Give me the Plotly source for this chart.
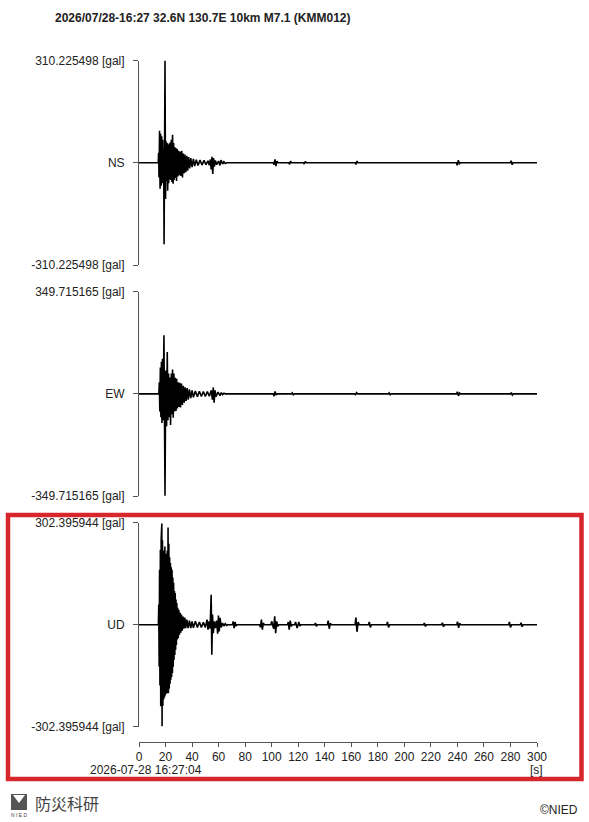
import plotly.graph_objects as go

W, H = 589, 822

TITLE = "2026/07/28-16:27 32.6N 130.7E 10km M7.1 (KMM012)"
START = "2026-07-28 16:27:04"
CHANNELS = ["NS", "EW", "UD"]
MAXES = [310.225498, 349.715165, 302.395944]
X_TICKS = list(range(0, 301, 20))

NS = [(0,0),(14.5,0),(14.8,30),(15.1,-45),(15.5,97),(15.9,-79),(16.3,88),(16.7,-70),(17.1,80),(17.5,-62),
      (17.9,70),(18.3,-45),(18.6,40),(18.9,-247),(19.3,60),(19.6,310),(20.0,-110),(20.4,65),(20.8,-55),(21.2,60),
      (21.6,-85),(22.0,55),(22.4,-62),(22.8,58),(23.2,-50),(23.6,62),(24.0,-52),(24.4,70),(24.8,-58),(25.3,85),
      (25.7,-64),(26.1,60),(26.5,-52),(26.9,48),(27.3,-46),(27.8,45),(28.3,-55),(28.8,42),(29.3,-42),(29.8,36),
      (30.4,-38),(31.0,34),(31.6,-40),(32.2,36),(32.8,-45),(33.4,28),(34.0,-32),(34.6,25),(35.3,-29),(36.0,21),
      (36.7,-24),(37.4,17),(38.2,-17),(39.0,14),(40.0,-13),(41.0,12),(42.0,-10),(43.2,9),(44.5,-8),(46.0,8),
      (47.5,-7),(49.0,7),(50.5,-6),(52.0,6),(53.0,-8),(53.8,10),(54.4,-20),(55.0,18),(55.6,-34),(56.2,14),
      (56.8,-12),(57.6,7),(58.5,-6),(60.0,5),(61.0,-8),(61.8,8),(63.0,-4),(64,3),(65,-2),(66,0),
      (101.2,0),(101.8,-6),(102.5,10),(103.2,-10),(104,5),(104.8,0),
      (113,0),(113.5,-5),(114.2,5),(114.9,0),(124,0),(124.5,-4),(125.3,4),(126,0),
      (163,0),(163.5,-5),(164.3,5),(165,0),(239.3,0),(239.8,-8),(240.7,8),(241.5,-3),(242.3,0),
      (280,0),(280.5,6),(281.3,-6),(282,0),(300,0)]

EW = [(0,0),(15.0,0),(15.3,40),(15.7,-60),(16.1,90),(16.5,-80),(16.9,110),(17.3,-100),(17.7,120),(18.1,-90),
      (18.8,201),(19.6,-349),(20.2,80),(20.8,-111),(21.3,143),(21.8,-90),(22.3,70),(22.8,-80),(23.3,56),(23.8,-107),
      (24.4,70),(24.9,-70),(25.3,83),(25.8,-82),(26.3,70),(26.8,-60),(27.4,55),(27.9,-59),(28.4,52),(28.9,-50),
      (29.5,40),(30.1,-45),(30.7,38),(31.3,-47),(32.0,35),(32.7,-38),(33.4,28),(34.1,-30),(34.8,22),(35.5,-24),
      (36.3,20),(37.1,-20),(38.0,15),(39.0,-15),(40.0,12),(41.0,-12),(42.5,10),(44.0,-10),(45.5,9),(47.0,-9),
      (48.5,8),(50.0,-9),(51.5,8),(53.0,-8),(54.5,12),(55.3,-20),(56.0,22),(56.6,-30),(57.3,12),(58.0,-10),
      (59.5,6),(61.0,-6),(62,4),(63,-3),(64,2),(65,0),
      (101.2,0),(101.8,-8),(102.6,8),(103.4,-4),(104.2,0),(115,0),(115.5,3),(116.3,-3),(117,0),
      (162.6,0),(163.2,-4),(164,4),(164.8,0),(188,0),(188.5,3),(189.3,-3),(190,0),
      (239.4,0),(240,7),(240.8,-7),(241.6,3),(242.4,0),(280,0),(280.6,4),(281.4,-4),(282.2,0),(300,0)]

UD = [(0,0),(14.6,0),(14.9,60),(15.2,-124),(15.5,163),(15.8,-180),(16.1,222),(16.4,-242),(16.7,250),(17.0,-270),
      (17.2,300),(17.4,-301),(17.7,250),(18.0,-240),(18.3,213),(18.6,-222),(18.9,220),(19.2,-215),(19.5,232),
      (19.8,-210),(20.1,210),(20.4,-205),(20.7,202),(21.0,-203),(21.3,220),(21.6,-200),(21.9,288),(22.2,-203),
      (22.5,240),(22.8,-190),(23.1,200),(23.4,-175),(23.7,183),(24.0,-163),(24.3,170),(24.6,-155),(24.9,163),
      (25.2,-143),(25.5,140),(25.8,-125),(26.1,124),(26.4,-104),(26.7,100),(27.0,-90),(27.3,94),(27.6,-74),
      (27.9,75),(28.2,-60),(28.5,64),(28.8,-44),(29.2,50),(29.6,-40),(30.0,44),(30.5,-30),(31.0,35),(31.5,-24),
      (32.0,30),(32.6,-18),(33.2,24),(33.8,-12),(34.5,21),(35.2,-10),(36,15),(37,-10),(38,12),(39,-10),(40,10),
      (41,-9),(42.5,10),(44,-8),(45.5,8),(47,-8),(48.5,7),(50,-8),(51.3,15),(52,-15),(52.8,10),(53.6,-12),
      (54.4,89),(54.9,-89),(55.4,30),(56,-25),(56.8,10),(57.6,-10),(58.5,12),(59.3,-27),(59.9,27),(60.5,-20),
      (61.1,20),(62,-8),(63,5),(64,-4),(65,3),(66,-2),(67,0),
      (70.4,0),(71,10),(71.7,-10),(72.4,8),(73.1,-4),(73.8,0),
      (91,0),(91.5,-8),(92.3,15),(93,-15),(93.7,5),(94.4,0),
      (99.4,0),(100,10),(101.5,-12),(102.3,25),(103,-25),(103.8,10),(104.6,-5),(105.4,0),
      (112,0),(112.5,8),(113.2,-15),(114,12),(114.8,-5),(115.5,0),
      (117.4,0),(118,8),(119.2,-10),(120.5,8),(121.3,-4),(122,0),
      (132.4,0),(133,5),(133.7,-5),(134.4,0),(142,0),(142.6,12),(143.4,-12),(144.2,4),(145,0),
      (162.9,0),(163.5,21),(164.3,-21),(165.2,8),(166,0),(173,0),(173.6,8),(174.4,-8),(175.2,0),
      (186.7,0),(187.3,8),(188.1,-8),(188.9,0),(214.5,0),(215.1,5),(215.9,-5),(216.7,0),
      (228.1,0),(228.7,6),(229.5,-6),(230.3,0),(239.5,0),(240.1,9),(240.9,-9),(241.7,4),(242.5,0),
      (278.6,0),(279.2,8),(280,-8),(280.8,0),(287.4,0),(288,6),(288.8,-6),(289.6,0),(300,0)]

SERIES = [NS, EW, UD]

# ---- layout helpers (pixel -> paper) ----
def px(x):
    return x / W

def py(y):
    return 1 - y / H

FONT = "Liberation Sans, Arial, sans-serif"
AXC = "#555555"
TXT = "#222222"

panel_px = [(60.5, 265.0), (291.7, 496.0), (522.7, 726.7)]
ax_names = ["y", "y2", "y3"]

fig = go.Figure()
for i, (name, mx, pts) in enumerate(zip(CHANNELS, MAXES, SERIES)):
    fig.add_trace(go.Scatter(
        x=[p[0] for p in pts], y=[p[1] for p in pts],
        mode="lines", line=dict(color="black", width=1.6),
        xaxis="x", yaxis=ax_names[i], showlegend=False, hoverinfo="skip"))

layout = dict(
    template="none",
    width=W, height=H, autosize=False,
    margin=dict(l=0, r=0, t=0, b=0, pad=0),
    paper_bgcolor="white", plot_bgcolor="white",
    font=dict(family=FONT, size=12, color=TXT),
    xaxis=dict(domain=[px(139), px(537)], range=[0, 300], anchor="free", position=py(741.5),
               tickmode="array", tickvals=X_TICKS, ticktext=[str(v) for v in X_TICKS],
               ticks="outside", ticklen=4, tickcolor=AXC, showline=True, linecolor=AXC, linewidth=1,
               showgrid=False, zeroline=False, automargin=False, tickfont=dict(size=12, color=TXT)),
)
for i, (name, mx) in enumerate(zip(CHANNELS, MAXES)):
    top, bot = panel_px[i]
    key = "yaxis" if i == 0 else f"yaxis{i+1}"
    layout[key] = dict(
        domain=[py(bot), py(top)], range=[-mx, mx], anchor="x",
        tickmode="array", tickvals=[-mx, 0, mx],
        ticktext=[f"-{mx:.6f} [gal]", name, f"{mx:.6f} [gal]"],
        ticks="outside", ticklen=5, tickcolor=AXC, showline=True, linecolor=AXC, linewidth=1,
        showgrid=False, zeroline=False, ticklabelstandoff=6, automargin=False,
        tickfont=dict(size=12, color=TXT))
fig.update_layout(**layout)

ann = [
    dict(text="<b>" + TITLE + "</b>", x=px(53), y=py(18), xanchor="left", yanchor="middle",
         font=dict(size=12, color=TXT)),
    dict(text=START, x=px(88), y=py(770), xanchor="left", yanchor="middle", font=dict(size=12, color=TXT)),
    dict(text="[s]", x=px(536), y=py(770), xanchor="center", yanchor="middle", font=dict(size=12, color=TXT)),
    dict(text="防災科研", x=px(33), y=py(803), xanchor="left", yanchor="middle",
         font=dict(size=16, color="#444444", family="Noto Sans CJK JP")),
    dict(text="N I E D", x=px(19), y=py(815), xanchor="center", yanchor="middle",
         font=dict(size=5, color="#444444")),
    dict(text="©NIED", x=px(580), y=py(810), xanchor="right", yanchor="middle", font=dict(size=12, color=TXT)),
]
for a in ann:
    a.update(xref="paper", yref="paper", showarrow=False)
fig.update_layout(annotations=ann)

shapes = [
    dict(type="rect", xref="paper", yref="paper", x0=px(8), x1=px(581.5), y0=py(779), y1=py(515),
         line=dict(color="#d8262d", width=4.5), fillcolor="rgba(0,0,0,0)"),
    dict(type="path", xref="paper", yref="paper",
         path=(f"M {px(11)},{py(794)} L {px(27)},{py(794)} L {px(27)},{py(810)} L {px(11)},{py(810)} Z "
               f"M {px(13)},{py(795)} L {px(19)},{py(803)} L {px(25)},{py(795)} Z"),
         line=dict(width=0), fillcolor="#555555", fillrule="evenodd"),
]
fig.update_layout(shapes=shapes)

fig.write_html("out.html", config={"displayModeBar": False},
               post_script="document.body.style.margin='0';document.body.style.padding='0';")
